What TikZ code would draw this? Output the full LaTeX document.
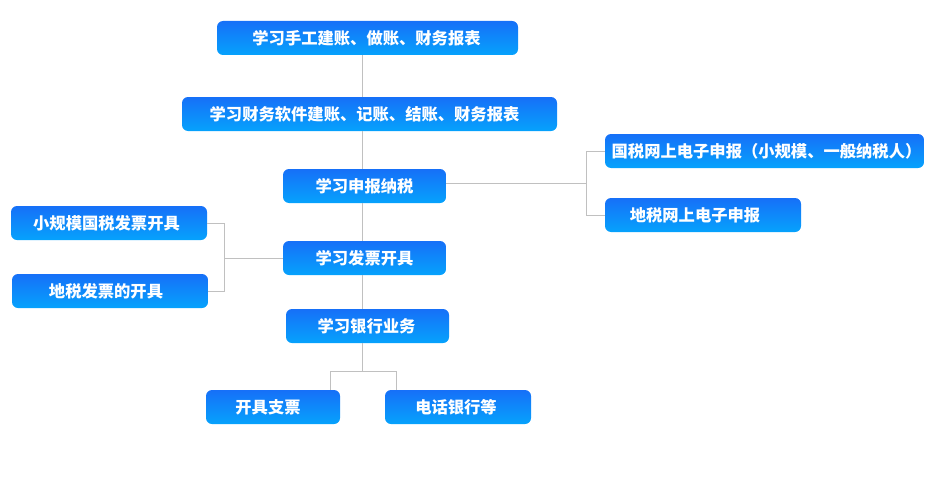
\documentclass[tikz,border=0pt]{standalone}
\usepackage{fontspec}
\newfontfamily\cjk{Noto Sans CJK SC}
\definecolor{btop}{RGB}{22,112,248}
\definecolor{bbot}{RGB}{6,162,252}
\definecolor{conn}{RGB}{192,192,192}
\tikzset{
  box/.style={rounded corners=6pt, top color=btop, bottom color=bbot, draw=none,
    minimum height=34pt, inner sep=0pt},
  txt/.style={text=white, font=\cjk\bfseries\fontsize{16.3pt}{18pt}\selectfont, inner sep=0pt},
  link/.style={draw=conn, line width=1pt}
}
\begin{document}
\begin{tikzpicture}[x=1pt,y=-1pt]
\useasboundingbox (0,0) rectangle (925,503);
\node[box,minimum width=301pt,label={[txt,xshift=-1pt]center:学习手工建账、做账、财务报表}] (n1) at (367.5,38) {};
\node[box,minimum width=375pt,label={[txt,xshift=-5pt]center:学习财务软件建账、记账、结账、财务报表}] (n2) at (369.5,114) {};
\node[box,minimum width=163pt,label={[txt]center:学习申报纳税}] (n3) at (364.5,186) {};
\node[box,minimum width=163pt,label={[txt]center:学习发票开具}] (n4) at (364.5,258) {};
\node[box,minimum width=163pt,label={[txt,xshift=-1pt]center:学习银行业务}] (n5) at (367.5,326) {};
\node[box,minimum width=134pt,label={[txt,xshift=-5pt]center:开具支票}] (n6) at (273,407) {};
\node[box,minimum width=146pt,label={[txt,xshift=-2pt]center:电话银行等}] (n7) at (458,407) {};
\node[box,minimum width=196pt,label={[txt,xshift=-2.5pt]center:小规模国税发票开具}] (n8) at (109,223) {};
\node[box,minimum width=196pt,label={[txt,xshift=-4pt]center:地税发票的开具}] (n9) at (110,291) {};
\node[box,minimum width=319pt,label={[txt,xshift=2pt]center:国税网上电子申报（小规模、一般纳税人）}] (n10) at (764.5,151) {};
\node[box,minimum width=196pt,label={[txt,xshift=-8pt]center:地税网上电子申报}] (n11) at (703,215) {};
\coordinate (vx) at (362,0);
\coordinate (rx) at (586,0);
\coordinate (lx) at (224,0);
\coordinate (by) at (0,371);
\coordinate (c6) at (330,0);
\coordinate (c7) at (396,0);
\draw[link] (n1.south -| vx) -- (n2.north -| vx);
\draw[link] (n2.south -| vx) -- (n3.north -| vx);
\draw[link] (n3.south -| vx) -- (n4.north -| vx);
\draw[link] (n4.south -| vx) -- (n5.north -| vx);
\draw[link] (n5.south -| vx) -- (vx |- by);
\draw[link] (n6.north -| c6) -- (c6 |- by) -- (c7 |- by) -- (n7.north -| c7);
\draw[link] ([yshift=2.5pt]n3.east) -- ([yshift=2.5pt]rx |- n3.east);
\draw[link] (n10.west) -- (rx |- n10.west) -- (rx |- n11.west) -- (n11.west);
\draw[link] (n4.west) -- (lx |- n4.west);
\draw[link] (n8.east) -- (lx |- n8.east) -- (lx |- n9.east) -- (n9.east);
\end{tikzpicture}
\end{document}
